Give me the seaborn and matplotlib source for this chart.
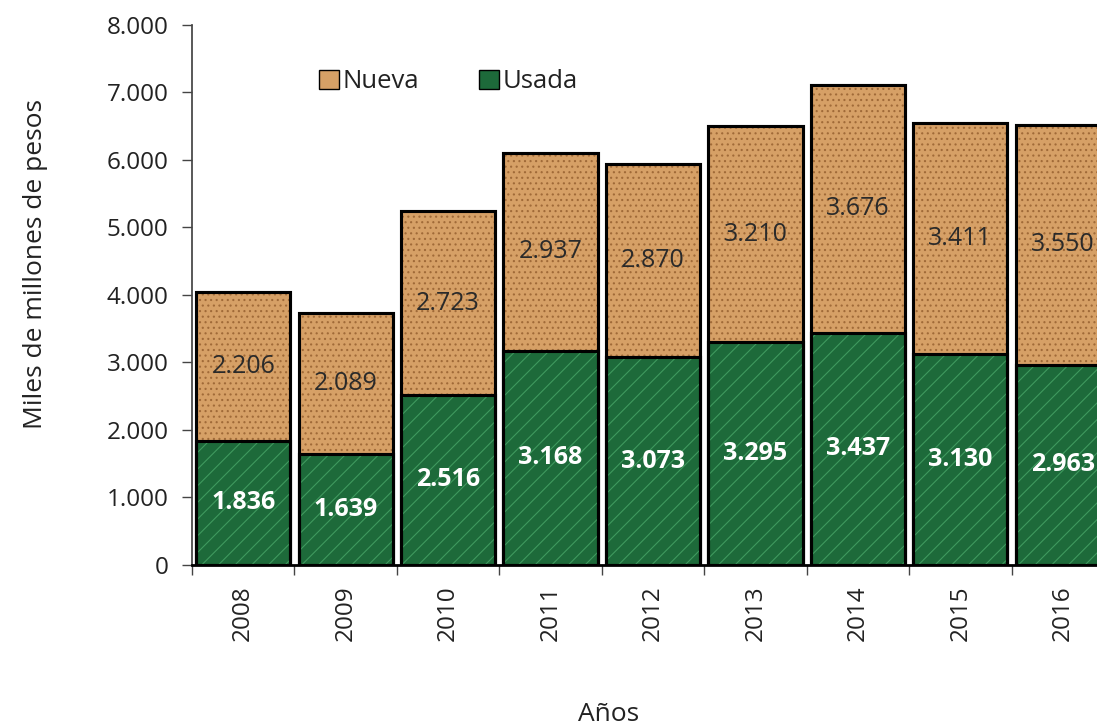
import numpy as np
import pandas as pd
import matplotlib
matplotlib.use("Agg")
import matplotlib.pyplot as plt
import seaborn as sns
from matplotlib.patches import Patch
from matplotlib.ticker import FuncFormatter, FixedLocator

# ---------------------------------------------------------------------
# DATA
# ---------------------------------------------------------------------
years = ["2008", "2009", "2010", "2011", "2012", "2013", "2014", "2015", "2016"]
usada = [1836, 1639, 2516, 3168, 3073, 3295, 3437, 3130, 2963]
nueva = [2206, 2089, 2723, 2937, 2870, 3210, 3676, 3411, 3550]

COL_NUEVA = "#d6a066"
COL_NUEVA_DARK = "#a06a38"
COL_USADA = "#1d6a3a"
COL_USADA_LIGHT = "#3f9a5e"

df = pd.DataFrame({"year": years, "usada": usada, "nueva": nueva})
df["total"] = df["usada"] + df["nueva"]

sns.set_theme(style="white")
plt.rcParams["font.family"] = ["Open Sans", "DejaVu Sans"]
plt.rcParams["hatch.linewidth"] = 0.8

fig = plt.figure(figsize=(10.97, 7.27), dpi=100)
ax = fig.add_axes([0.175, 0.223, 0.8405, 0.743])

# Nueva on top (drawn as total), Usada over it
sns.barplot(data=df, x="year", y="total", color=COL_NUEVA, saturation=1,
            width=0.92, edgecolor="black", linewidth=2.2, ax=ax, zorder=2)
sns.barplot(data=df, x="year", y="total", color="none", saturation=1,
            width=0.92, edgecolor=COL_NUEVA_DARK, linewidth=0, hatch="...",
            ax=ax, zorder=3)
sns.barplot(data=df, x="year", y="usada", color=COL_USADA, saturation=1,
            width=0.92, edgecolor="black", linewidth=2.2, ax=ax, zorder=4)
sns.barplot(data=df, x="year", y="usada", color="none", saturation=1,
            width=0.92, edgecolor=COL_USADA_LIGHT, linewidth=0, hatch="//",
            ax=ax, zorder=5)

# re-draw outlines on top of textures, then value labels
for i, row in df.iterrows():
    ax.bar(i, row["total"], width=0.92, facecolor="none", edgecolor="black",
           linewidth=2.2, zorder=6)
    ax.bar(i, row["usada"], width=0.92, facecolor="none", edgecolor="black",
           linewidth=2.2, zorder=6)
    ax.text(i, row["usada"] / 2, f"{row['usada']:,}".replace(",", "."),
            ha="center", va="center", color="white", fontsize=18,
            fontweight="bold", zorder=7)
    ax.text(i, row["usada"] + row["nueva"] / 2, f"{row['nueva']:,}".replace(",", "."),
            ha="center", va="center", color="#2a2a2a", fontsize=18, zorder=7)

ax.set_xlim(-0.5, len(years) - 0.5)
ax.set_ylim(0, 8000)
ax.set_yticks(np.arange(0, 8001, 1000))
ax.yaxis.set_major_formatter(FuncFormatter(lambda v, p: f"{int(v):,}".replace(",", ".")))

ax.tick_params(axis="y", which="major", length=7, width=1, color="#444444",
               labelsize=17.5, left=True, pad=10, labelcolor="#222222")
ax.tick_params(axis="x", which="major", length=0, labelsize=17.5, rotation=90,
               pad=15, labelcolor="#222222")
ax.xaxis.set_minor_locator(FixedLocator(np.arange(-0.5, len(years), 1)))
ax.tick_params(axis="x", which="minor", length=7, width=1, color="#444444", bottom=True)

for s in ["top", "right"]:
    ax.spines[s].set_visible(False)
ax.spines["left"].set_color("#444444")
ax.spines["bottom"].set_color("black")
ax.spines["bottom"].set_linewidth(2)

ax.set_ylabel("Miles de millones de pesos", fontsize=19, color="#222222")
ax.set_xlabel("Años", fontsize=19, color="#222222")
ax.yaxis.set_label_coords(-0.156, 0.557)
ax.xaxis.set_label_coords(0.452, -0.254)

handles = [Patch(facecolor=COL_NUEVA, edgecolor="black", label="Nueva"),
           Patch(facecolor=COL_USADA, edgecolor="black", label="Usada")]
ax.legend(handles=handles, loc="upper left", bbox_to_anchor=(0.113, 0.96), ncol=2,
          frameon=False, fontsize=18.5, handlelength=0.75, handleheight=0.75,
          handletextpad=0.15, columnspacing=2.35, labelcolor="#222222")

fig.savefig("out.png", dpi=100)
